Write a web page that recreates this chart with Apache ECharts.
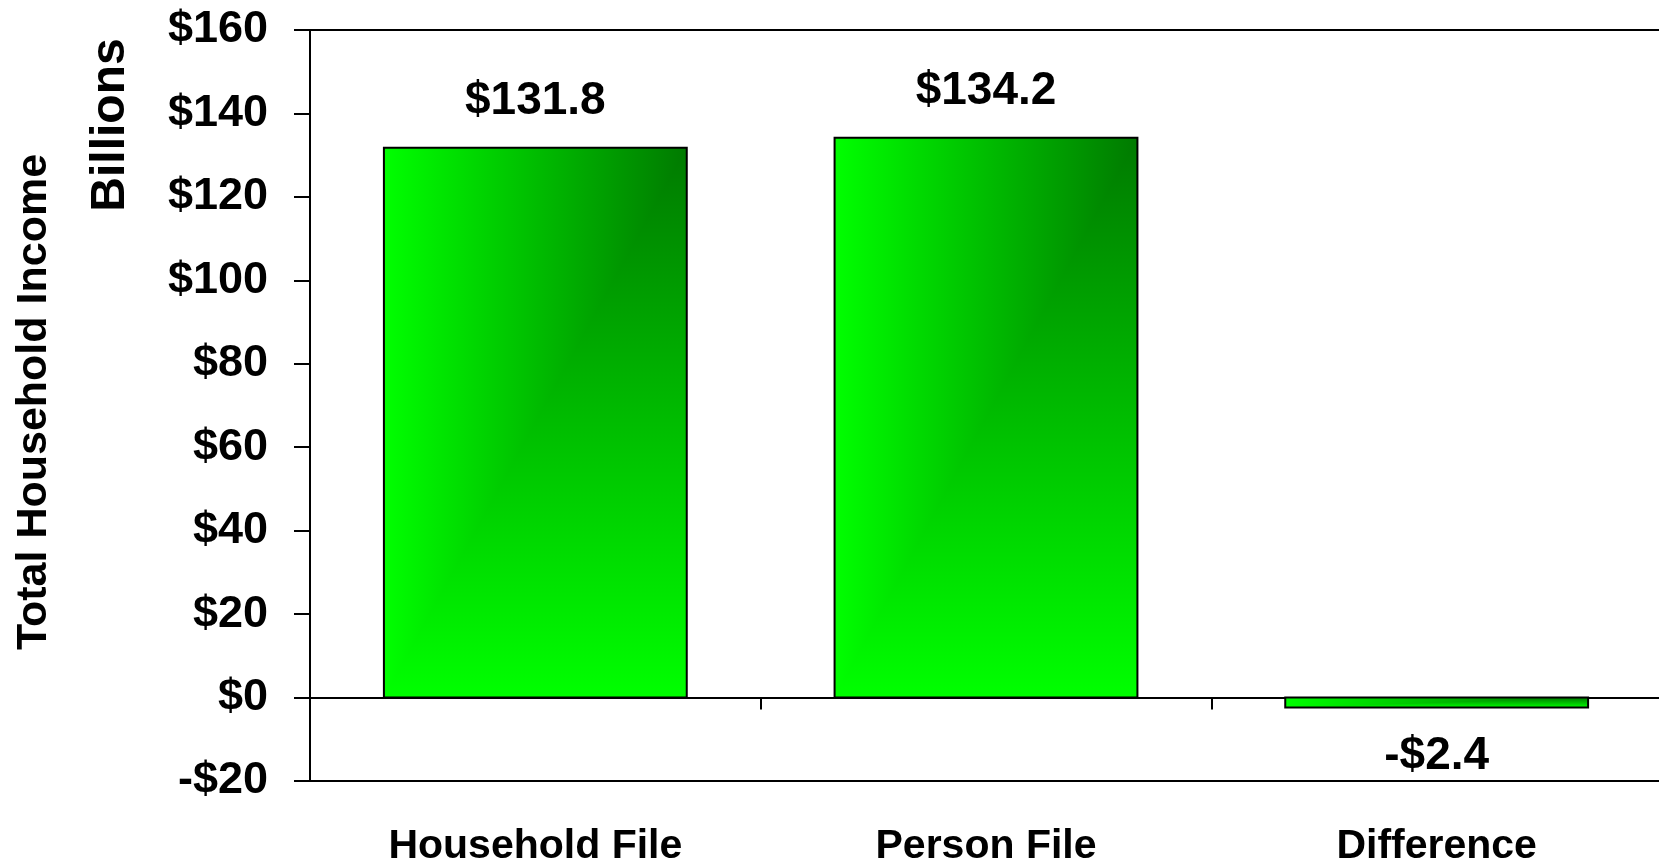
<!DOCTYPE html>
<html>
<head>
<meta charset="utf-8">
<title>Total Household Income</title>
<script src="https://cdn.jsdelivr.net/npm/echarts@6/dist/echarts.min.js"></script>
<style>
  html, body { margin: 0; padding: 0; background: #fff; }
  #chart { width: 1659px; height: 859px; }
</style>
</head>
<body>
<div id="chart"></div>
<script>
// Categories and values (billions of dollars)
const categories = ['Household File', 'Person File', 'Difference'];
const incomeValues = [131.8, 134.2, -2.4];
const yTicks = { min: -20, max: 160, step: 20 };

const FONT = '"Liberation Sans", Arial, Helvetica, sans-serif';
const BRIGHT = '#00ff00';
const DARK = '#007a00';

function money(v) {
  return (v < 0 ? '-$' : '$') + Math.abs(v);
}
function moneyLabel(v) {
  return (v < 0 ? '-$' : '$') + Math.abs(v).toFixed(1);
}

// Corner-shaded bar: bright at the left and bottom edges, darkening toward the top-right corner.
function renderBar(params, api) {
  const idx = api.value(0);
  const val = api.value(1);
  const base = api.coord([idx, 0]);
  const end = api.coord([idx, val]);
  const bw = api.size([1, 0])[0] * 0.672;
  const x0 = base[0] - bw / 2;
  const x1 = base[0] + bw / 2;
  const yTop = Math.min(base[1], end[1]);
  const yBot = Math.max(base[1], end[1]);

  const horiz = new echarts.graphic.LinearGradient(0, 0, 1, 0, [
    { offset: 0, color: BRIGHT }, { offset: 1, color: DARK }
  ]);
  const vert = new echarts.graphic.LinearGradient(0, 1, 0, 0, [
    { offset: 0, color: BRIGHT }, { offset: 1, color: DARK }
  ]);

  const labelY = val >= 0 ? yTop - 46 : yBot + 49;

  return {
    type: 'group',
    children: [
      {
        // vertical shading over the whole bar
        type: 'rect',
        shape: { x: x0, y: yTop, width: bw, height: yBot - yTop },
        style: { fill: vert }
      },
      {
        // horizontal shading over the upper-left half
        type: 'polygon',
        shape: { points: [[x0, yBot], [x0, yTop], [x1, yTop]] },
        style: { fill: horiz }
      },
      {
        type: 'rect',
        shape: { x: x0, y: yTop, width: bw, height: yBot - yTop },
        style: { fill: null, stroke: '#000', lineWidth: 2 }
      },
      {
        type: 'text',
        style: {
          text: moneyLabel(val),
          x: base[0], y: labelY,
          align: 'center', verticalAlign: 'middle',
          font: 'bold 46px ' + FONT, fill: '#000'
        }
      }
    ]
  };
}

const chart = echarts.init(document.getElementById('chart'), null, { renderer: 'canvas' });

chart.setOption({
  backgroundColor: '#ffffff',
  animation: false,
  grid: {
    left: 310, top: 30, width: 1352, height: 751,
    outerBoundsMode: 'none', containLabel: false,
    show: true, borderColor: '#000', borderWidth: 2, backgroundColor: 'transparent'
  },
  xAxis: [
    {
      type: 'category',
      data: categories,
      axisLine: { onZero: true, lineStyle: { color: '#000', width: 2 } },
      axisTick: { show: true, length: 12, lineStyle: { color: '#000', width: 2 } },
      axisLabel: { show: false },
      splitLine: { show: false }
    },
    {
      type: 'category',
      data: categories,
      position: 'bottom',
      axisLine: { show: false, onZero: false },
      axisTick: { show: false },
      axisLabel: {
        show: true, margin: 45, color: '#000',
        fontFamily: FONT, fontWeight: 'bold', fontSize: 41, lineHeight: 41
      },
      splitLine: { show: false }
    }
  ],
  yAxis: {
    type: 'value',
    min: yTicks.min, max: yTicks.max, interval: yTicks.step,
    axisLine: { show: true, lineStyle: { color: '#000', width: 2 } },
    axisTick: { show: true, length: 16, lineStyle: { color: '#000', width: 2 } },
    splitLine: { show: false },
    axisLabel: {
      margin: 42, color: '#000',
      fontFamily: FONT, fontWeight: 'bold', fontSize: 45,
      formatter: money
    }
  },
  graphic: [
    {
      type: 'text', x: 34, y: 402, rotation: Math.PI / 2,
      style: {
        text: 'Total Household Income', align: 'center', verticalAlign: 'middle',
        font: 'bold 43px ' + FONT, fill: '#000'
      }
    },
    {
      type: 'text', x: 111, y: 125, rotation: Math.PI / 2,
      style: {
        text: 'Billions', align: 'center', verticalAlign: 'middle',
        font: 'bold 48px ' + FONT, fill: '#000'
      }
    }
  ],
  series: [
    {
      type: 'custom',
      xAxisIndex: 0,
      renderItem: renderBar,
      encode: { x: 0, y: 1 },
      data: categories.map((c, i) => [i, incomeValues[i]]),
      clip: false
    }
  ]
});
</script>
</body>
</html>
